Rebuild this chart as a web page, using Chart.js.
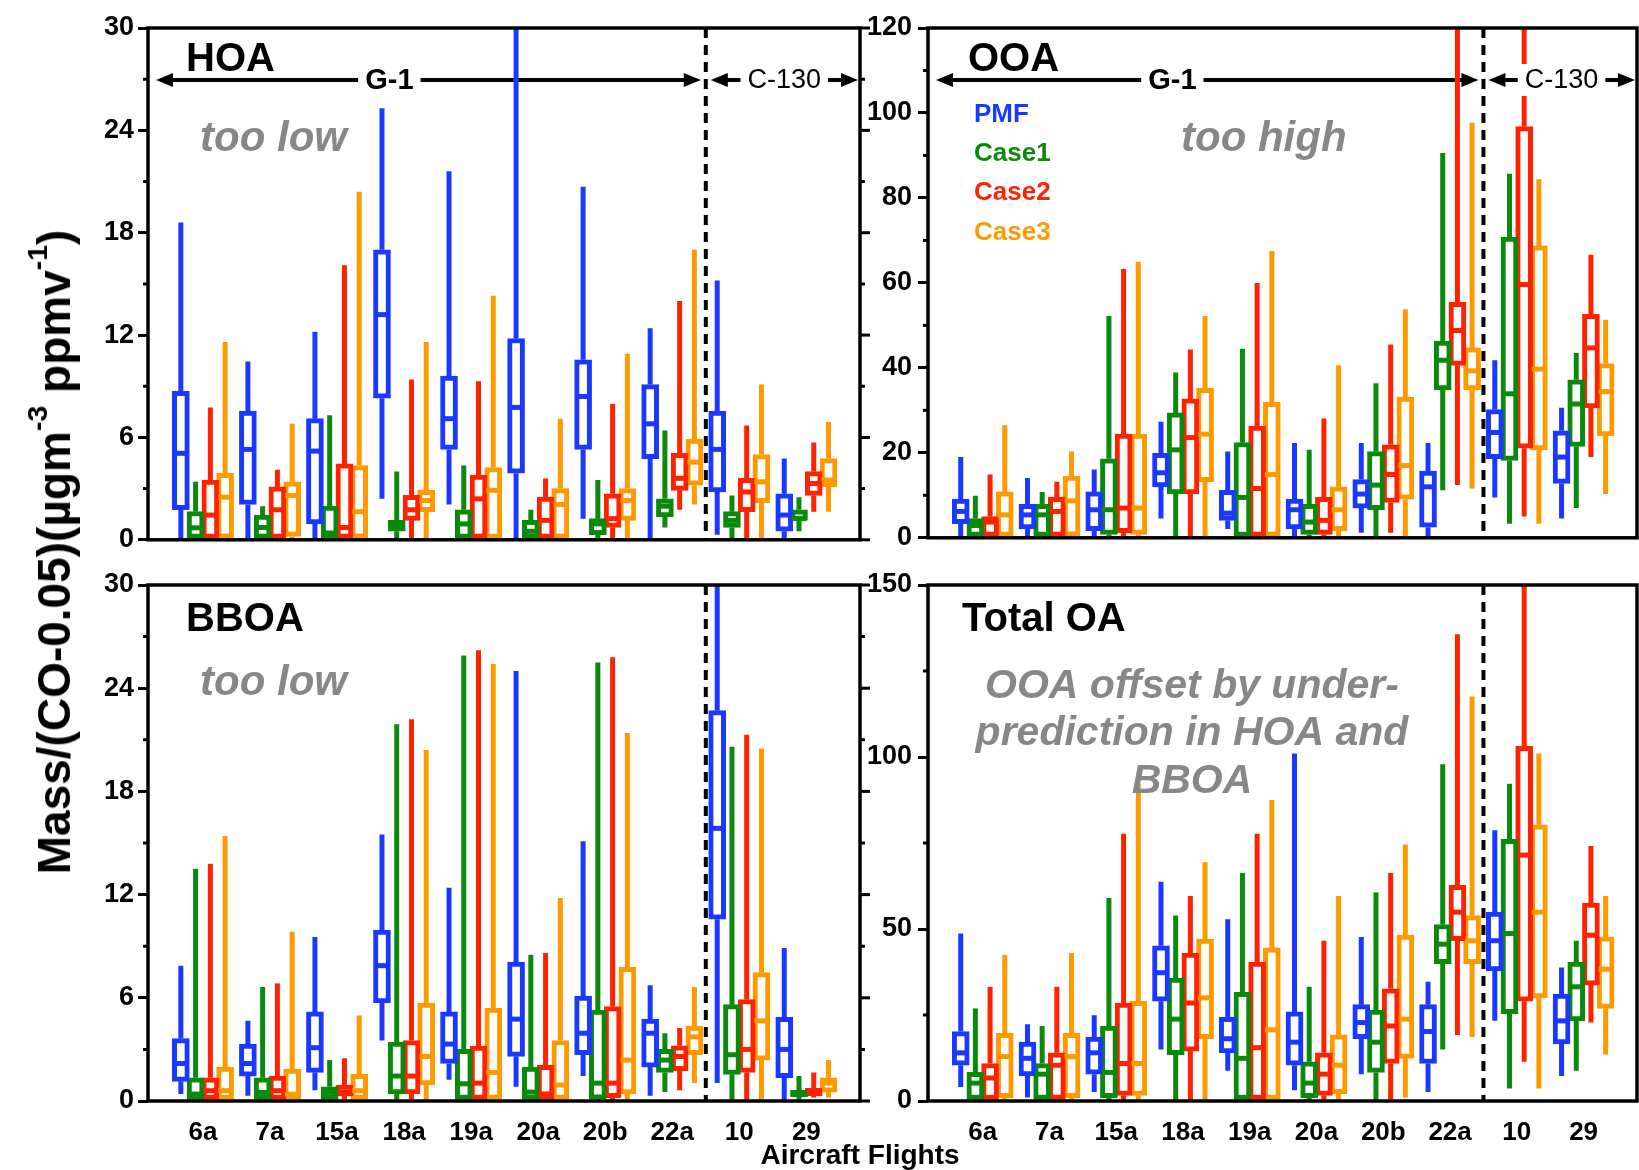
<!DOCTYPE html>
<html>
<head>
<meta charset="utf-8">
<script src="https://cdn.jsdelivr.net/npm/chart.js@4.4.0/dist/chart.umd.min.js"></script>
<style>
  body { margin: 0; background: #fff; }
  #fig { position: relative; width: 1639px; height: 1170px; overflow: hidden; font-family: "Liberation Sans", Arial, sans-serif; }
  #fig canvas { position: absolute; }
  #ytitle { position: absolute; left: 54px; top: 552px; transform: translate(-50%, -50%) rotate(-90deg);
            white-space: nowrap; font-weight: bold; font-size: 46px; color: #000; }
  #ytitle sup { font-size: 0.62em; line-height: 0; vertical-align: 0.8em; }
  #xtitle { position: absolute; left: 860px; top: 1155px; transform: translate(-50%, -50%);
            white-space: nowrap; font-weight: bold; font-size: 28px; color: #000; }
</style>
</head>
<body>
<div id="fig">
  <canvas id="hoa" width="880" height="560" style="left:0;top:0"></canvas>
  <canvas id="ooa" width="779" height="560" style="left:860px;top:0"></canvas>
  <canvas id="bboa" width="880" height="610" style="left:0;top:560px"></canvas>
  <canvas id="total" width="779" height="610" style="left:860px;top:560px"></canvas>
  <div id="ytitle">Mass/(CO-0.05)(µgm<sup>-3</sup> ppmv<sup>-1</sup>)</div>
  <div id="xtitle">Aircraft Flights</div>
</div>
<script>
// flights and series
var flights = ['6a', '7a', '15a', '18a', '19a', '20a', '20b', '22a', '10', '29'];
var seriesNames = ['PMF', 'Case1', 'Case2', 'Case3'];
var seriesColors = ['#1a38ff', '#0a8a0a', '#ff2200', '#ff9900'];

// each row: [min, q1, median, q3, max] for one flight
var hoaPMF = [[0,1.76,5.07,8.7,18.6],[0,2.07,5.3,7.55,10.45],[0,0.93,5.2,7.1,12.2],[2.4,8.3,13.2,17.0,25.3],[2.07,5.3,7.1,9.6,21.6],
              [0,3.9,7.76,11.8,31],[1.24,5.3,8.4,10.55,20.7],[0,4.76,6.8,9.1,12.4],[0.3,2.8,5.3,7.55,15.2],[0,0.5,1.45,2.7,4.76]];
var hoaCase1 = [[0,0,0.7,1.65,3.4],[0,0,0.72,1.45,1.97],[0,0.1,0.4,1.97,7.3],[0,0.5,0.83,1.14,4.0],[0,0,0.93,1.76,4.35],
                [0,0,0.5,1.14,1.76],[0,0.3,0.93,1.24,3.5],[0.72,1.34,1.97,2.4,6.4],[0,0.72,1.14,1.65,2.6],[0.5,1.14,1.24,1.76,2.5]];
var hoaCase2 = [[0,0,1.45,3.5,7.76],[0,0,1.76,3.1,4.1],[0,0,0.72,4.45,16.1],[0,1.14,1.76,2.6,9.4],[0,0,2.4,3.8,9.3],
                [0,0,1.14,2.5,3.6],[0,0.72,1.24,2.7,7.97],[1.76,2.9,3.6,5.07,14.0],[0,1.65,2.8,3.6,6.7],[1.65,2.6,3.3,4.0,5.7]];
var hoaCase3 = [[0,0.1,2.5,3.9,11.6],[0,0.2,2.6,3.4,6.8],[0,0.1,1.65,4.35,20.4],[0,1.65,2.3,2.9,11.6],[0,0,2.9,4.24,14.3],
                [0,0,2.07,3.0,7.1],[0,1.14,2.3,3.0,10.9],[2.07,3.2,4.55,5.9,17.0],[0,2.17,3.4,5.0,9.1],[1.65,3.1,3.5,4.76,6.9]];

var ooaPMF = [[0,3.3,6.2,9.1,19.0],[0,2.1,5.4,7.9,14.1],[0,1.65,6.6,10.8,16.1],[4.55,12.0,15.3,19.9,27.3],[2.1,4.1,5.8,11.2,20.3],
              [0,2.1,6.6,9.1,22.3],[1.2,7.0,10.3,13.7,22.3],[0,2.5,12.0,15.7,22.3],[9.5,18.6,24.8,30.2,41.8],[4.55,12.8,19.0,25.2,30.6]];
var ooaCase1 = [[0,0,2.9,4.55,9.9],[0,0,5.4,7.9,10.8],[0,0.8,6.6,18.6,52.2],[0,10.3,20.7,29.4,38.9],[0,0,9.5,22.4,44.5],
                [0,0.8,3.7,7.9,20.7],[0,6.6,12.4,20.3,36.4],[11.2,34.8,41.8,46.3,90.6],[3.3,18.2,33.9,70.8,85.7],[7.0,21.5,31.5,37.2,43.5]];
var ooaCase2 = [[0,0,3.7,5.0,14.9],[0,0,6.2,9.5,13.2],[0,1.2,7.0,24.4,63.3],[0,10.3,23.6,32.7,44.3],[0,0,11.6,26.3,60.0],
                [0,0.8,4.1,9.5,28.1],[1.2,8.3,14.9,21.9,45.5],[12.4,40.6,48.8,55.4,135],[5.0,21.1,59.6,96.8,140],[19.0,30.6,44.7,52.6,66.6]];
var ooaCase3 = [[0,0,5.4,10.8,26.5],[0,0.4,8.7,14.5,20.3],[0,0.8,7.0,24.4,65.0],[0,13.2,24.4,35.2,52.2],[0,0,14.9,31.9,67.5],
                [0,1.65,6.6,12.0,40.6],[0,9.1,17.0,33.1,53.8],[11.6,34.8,39.3,44.7,97.7],[3.3,20.7,39.7,68.7,84.4],[10.3,24.0,34.4,41.0,51.3]];

var bboaPMF = [[0.41,1.14,2.18,3.63,7.87],[0.31,1.45,2.18,3.31,4.66],[0.62,1.66,3.1,5.18,9.53],[3.52,5.7,7.87,9.94,15.5],[1.24,2.18,3.31,5.18,12.4],
               [0.83,2.59,4.76,8.08,25.0],[1.45,2.69,3.94,6.1,15.1],[0.31,1.97,3.94,4.76,6.73],[1.04,10.57,15.85,22.7,33],[0,1.35,3.0,4.87,8.9]];
var bboaCase1 = [[0,0,0.4,1.35,13.5],[0,0,0.5,1.35,6.63],[0,0,0.5,0.83,2.38],[0,0.41,1.45,3.42,21.9],[0,0,1.0,3.0,25.9],
                 [0,0,0.52,1.97,8.5],[0,0.1,1.04,5.28,25.5],[0.52,1.66,2.38,3.0,3.94],[0,1.55,2.69,5.6,20.6],[0.1,0.25,0.45,0.62,1.45]];
var bboaCase2 = [[0,0,0.6,1.35,13.8],[0,0,0.6,1.45,6.84],[0,0.3,0.5,0.93,2.49],[0,0.41,1.45,3.52,22.2],[0,0,1.04,3.2,26.2],
                 [0,0,0.41,2.07,8.6],[0,0.2,1.04,5.49,25.8],[0.62,1.76,2.59,3.21,4.25],[0,1.66,3.0,5.9,21.3],[0.2,0.31,0.52,0.73,1.66]];
var bboaCase3 = [[0,0,0.6,1.97,15.4],[0,0,0.4,1.86,9.84],[0,0,0.6,1.55,4.97],[0,0.93,2.59,5.7,20.4],[0,0,1.66,5.4,25.4],
                 [0,0,0.93,3.52,11.8],[0,0.41,2.38,7.77,21.4],[1.04,2.69,3.73,4.35,6.63],[0,2.38,4.66,7.46,20.5],[0.2,0.52,1.04,1.35,2.38]];

var totalPMF = [[4.1,10.4,14.0,20.2,48.7],[1.0,7.3,12.4,17.1,22.3],[2.6,7.8,14.0,18.6,24.9],[15.0,29.0,37.3,45.1,63.7],[8.8,14.0,18.1,24.3,52.8],
                [3.1,10.4,17.1,25.9,101],[7.8,18.1,22.8,28.0,47.7],[2.6,10.9,20.2,28.0,34.7],[23.3,37.8,46.6,54.9,78.7],[7.3,16.6,23.3,31.1,38.8]];
var totalCase1 = [[0,0,5.2,8.3,26.9],[0,0,7.8,10.9,21.8],[0,1.0,8.3,21.8,59.0],[0,13.5,23.8,35.7,53.9],[0,0,12.4,31.6,66.3],
                  [0,1.0,5.2,11.4,33.2],[0,8.3,17.1,26.4,60.6],[15.0,39.9,45.6,51.3,97.9],[3.6,25.4,48.7,76.1,92.2],[8.8,23.3,33.2,40.4,46.6]];
var totalCase2 = [[0,0,6.7,10.9,33.2],[0,0,10.4,14.0,33.2],[0,1.6,10.9,28.5,77.7],[0,14.5,28.5,43.0,59.6],[0,0,15.5,40.4,77.7],
                  [0,1.6,7.8,14.0,46.6],[0.5,10.9,21.8,32.6,66.3],[19.2,46.6,54.9,62.7,135.7],[11.4,29.0,71.5,103.1,160],[22.8,33.7,48.2,57.5,74.1]];
var totalCase3 = [[0,1.0,12.9,19.7,42.5],[0,1.0,12.9,19.7,43.0],[0,1.6,10.9,29.0,92.2],[0,18.1,30.0,47.1,69.4],[0,0,20.7,44.5,87.5],
                  [0,2.1,10.4,19.2,59.6],[1.0,12.4,23.8,48.2,74.6],[18.6,39.9,46.6,53.9,117.6],[3.6,30.0,54.9,80.3,101.0],[13.5,26.9,38.3,47.7,59.6]];

// y axis ranges and tick steps
var hoaTicks = { max: 30, step: 6 };
var ooaTicks = { max: 120, step: 20 };
var bboaTicks = { max: 30, step: 6 };
var totalTicks = { max: 150, step: 50 };

// where each case box sits inside a flight group
var boxOffsets = [-0.33, -0.11, 0.11, 0.33];
var splitAt = 7.5; // G-1 flights | C-130 flights

var GRAY = '#878787';

// text / arrow placement per panel (pixels from chart area top-left)
var panelAnno = {
  hoa: {
    mirror: true,
    arrows: { dy: 52, g1: 2.78, c130: 8.67 },
    texts: [
      { t: 'HOA', dx: 38, dy: 32, font: 'bold 40px', color: '#000' },
      { t: 'too low', dx: 52, dy: 111, font: 'italic bold 42px', color: GRAY }
    ]
  },
  ooa: {
    mirror: false,
    arrows: { dy: 52, g1: 2.84, c130: 8.67 },
    texts: [
      { t: 'OOA', dx: 40, dy: 32, font: 'bold 40px', color: '#000' },
      { t: 'too high', dx: 253, dy: 111, font: 'italic bold 42px', color: GRAY },
      { t: seriesNames[0], dx: 46, dy: 87, font: 'bold 26px', color: seriesColors[0] },
      { t: seriesNames[1], dx: 46, dy: 126, font: 'bold 26px', color: seriesColors[1] },
      { t: seriesNames[2], dx: 46, dy: 165, font: 'bold 26px', color: seriesColors[2] },
      { t: seriesNames[3], dx: 46, dy: 205, font: 'bold 26px', color: seriesColors[3] }
    ]
  },
  bboa: {
    mirror: true,
    texts: [
      { t: 'BBOA', dx: 38, dy: 35, font: 'bold 40px', color: '#000' },
      { t: 'too low', dx: 52, dy: 98, font: 'italic bold 42px', color: GRAY }
    ]
  },
  total: {
    mirror: false,
    texts: [
      { t: 'Total OA', dx: 34, dy: 35, font: 'bold 40px', color: '#000' },
      { t: 'OOA offset by under-', dx: 264, dy: 102, font: 'italic bold 41px', color: GRAY, align: 'center' },
      { t: 'prediction in HOA and', dx: 264, dy: 149, font: 'italic bold 41px', color: GRAY, align: 'center' },
      { t: 'BBOA', dx: 264, dy: 197, font: 'italic bold 41px', color: GRAY, align: 'center' }
    ]
  }
};

var FONT = '"Liberation Sans", Arial, sans-serif';

function arrowHead(ctx, x, y, dir) {
  ctx.beginPath();
  ctx.moveTo(x, y);
  ctx.lineTo(x - dir * 17, y - 7);
  ctx.lineTo(x - dir * 17, y + 7);
  ctx.closePath();
  ctx.fill();
}

function boxedLabel(ctx, txt, cx, cy, font) {
  ctx.font = font + ' ' + FONT;
  var w = ctx.measureText(txt).width;
  ctx.fillStyle = '#fff';
  ctx.fillRect(cx - w / 2 - 7, cy - 16, w + 14, 32);
  ctx.fillStyle = '#000';
  ctx.textAlign = 'center';
  ctx.textBaseline = 'middle';
  ctx.fillText(txt, cx, cy + 1);
}

var boxPlugin = {
  id: 'boxAnno',
  beforeDatasetsDraw: function(chart) {
    var ann = panelAnno[chart.canvas.id];
    var ctx = chart.ctx, a = chart.chartArea;
    var xs = chart.scales.x, ys = chart.scales.y;
    var xd = xs.getPixelForValue(splitAt);
    ctx.save();
    // dashed separator
    ctx.strokeStyle = '#000';
    ctx.lineWidth = 4;
    ctx.setLineDash([10, 7]);
    ctx.beginPath();
    ctx.moveTo(xd, a.top);
    ctx.lineTo(xd, a.bottom);
    ctx.stroke();
    ctx.setLineDash([]);
    // aircraft arrows
    if (ann.arrows) {
      var ay = a.top + ann.arrows.dy;
      ctx.fillStyle = '#000';
      ctx.beginPath();
      ctx.moveTo(a.left + 20, ay); ctx.lineTo(xd - 18, ay);
      ctx.moveTo(xd + 18, ay); ctx.lineTo(a.right - 14, ay);
      ctx.stroke();
      arrowHead(ctx, a.left + 8, ay, -1);
      arrowHead(ctx, xd - 5, ay, 1);
      arrowHead(ctx, xd + 5, ay, -1);
      arrowHead(ctx, a.right - 2, ay, 1);
    }
    // whiskers
    ctx.beginPath();
    ctx.rect(a.left, a.top, a.width, a.height);
    ctx.clip();
    ctx.lineWidth = 5;
    chart.data.datasets.forEach(function(ds, s) {
      ctx.strokeStyle = ds.borderColor;
      ds.stats.forEach(function(st, i) {
        var px = xs.getPixelForValue(i + boxOffsets[s]);
        ctx.beginPath();
        ctx.moveTo(px, ys.getPixelForValue(st[0]));
        ctx.lineTo(px, ys.getPixelForValue(st[1]));
        ctx.moveTo(px, ys.getPixelForValue(st[3]));
        ctx.lineTo(px, ys.getPixelForValue(st[4]));
        ctx.stroke();
      });
    });
    ctx.restore();
  },
  afterDatasetsDraw: function(chart) {
    var ann = panelAnno[chart.canvas.id];
    var ctx = chart.ctx, a = chart.chartArea;
    var xs = chart.scales.x, ys = chart.scales.y;
    var yo = ys.options;
    ctx.save();
    // medians
    ctx.lineWidth = 5;
    chart.data.datasets.forEach(function(ds, s) {
      ctx.strokeStyle = ds.borderColor;
      ds.stats.forEach(function(st, i) {
        var px = xs.getPixelForValue(i + boxOffsets[s]);
        var py = ys.getPixelForValue(st[2]);
        ctx.beginPath();
        ctx.moveTo(px - 7, py);
        ctx.lineTo(px + 7, py);
        ctx.stroke();
      });
    });
    // frame
    ctx.strokeStyle = '#000';
    ctx.lineWidth = 3.5;
    ctx.strokeRect(a.left, a.top, a.width, a.height);
    // minor ticks left, mirrored ticks right
    ctx.lineWidth = 3;
    var step = yo.ticks.stepSize / 2;
    for (var v = 0; v <= yo.max + 1e-9; v += step) {
      var py = ys.getPixelForValue(v);
      var major = Math.abs(v / yo.ticks.stepSize - Math.round(v / yo.ticks.stepSize)) < 1e-6;
      ctx.beginPath();
      if (!major) { ctx.moveTo(a.left - 5, py); ctx.lineTo(a.left, py); }
      if (ann.mirror) { ctx.moveTo(a.right, py); ctx.lineTo(a.right + (major ? 10 : 5), py); }
      ctx.stroke();
    }
    // arrow labels
    if (ann.arrows) {
      var ay = a.top + ann.arrows.dy;
      boxedLabel(ctx, 'G-1', xs.getPixelForValue(ann.arrows.g1), ay, 'bold 29px');
      boxedLabel(ctx, 'C-130', xs.getPixelForValue(ann.arrows.c130), ay, '27px');
    }
    // panel texts
    ctx.textBaseline = 'middle';
    ann.texts.forEach(function(tx) {
      ctx.font = tx.font + ' ' + FONT;
      ctx.fillStyle = tx.color;
      ctx.textAlign = tx.align || 'left';
      ctx.fillText(tx.t, a.left + tx.dx, a.top + tx.dy);
    });
    ctx.restore();
  }
};

function makeDatasets(list) {
  return list.map(function(stats, s) {
    return {
      label: seriesNames[s],
      stats: stats,
      data: stats.map(function(st, i) { return { x: i + boxOffsets[s], y: [st[1], st[3]] }; }),
      borderColor: seriesColors[s],
      backgroundColor: '#ffffff',
      borderWidth: 5,
      borderSkipped: false,
      barThickness: 17,
      grouped: false
    };
  });
}

function makeChart(id, list, ticks, bottomRow, leftCol) {
  var yWidth = leftCol ? 148 : 68;
  var xOpts = {
    type: 'linear', min: -0.82, max: 9.8, offset: false,
    grid: { display: false, offset: false }, border: { display: false }
  };
  if (bottomRow) {
    xOpts.display = true;
    xOpts.afterBuildTicks = function(scale) { scale.ticks = flights.map(function(f, i) { return { value: i }; }); };
    xOpts.afterFit = function(scale) { scale.height = 69; };
    xOpts.ticks = {
      autoSkip: false, maxRotation: 0, padding: 8, color: '#000',
      font: { family: FONT, size: 26, weight: 'bold' },
      callback: function(v) { return flights[v] !== undefined ? flights[v] : ''; }
    };
  } else {
    xOpts.display = false;
  }
  return new Chart(document.getElementById(id), {
    type: 'bar',
    data: { datasets: makeDatasets(list) },
    options: {
      responsive: false,
      animation: false,
      events: [],
      devicePixelRatio: 1,
      layout: { padding: { top: bottomRow ? 25 : 28, right: leftCol ? 20 : 2, bottom: bottomRow ? 0 : 15, left: 0 } },
      plugins: { legend: { display: false }, tooltip: { enabled: false } },
      scales: {
        x: xOpts,
        y: {
          type: 'linear', min: 0, max: ticks.max,
          afterFit: function(scale) { scale.width = yWidth; },
          grid: { display: true, drawOnChartArea: false, drawTicks: true, tickLength: 10, lineWidth: 3, color: '#000' },
          border: { display: false },
          ticks: { stepSize: ticks.step, padding: leftCol ? 4 : 6, color: '#000',
                   font: { family: FONT, size: 27, weight: 'bold' } }
        }
      }
    },
    plugins: [boxPlugin]
  });
}

makeChart('hoa', [hoaPMF, hoaCase1, hoaCase2, hoaCase3], hoaTicks, false, true);
makeChart('ooa', [ooaPMF, ooaCase1, ooaCase2, ooaCase3], ooaTicks, false, false);
makeChart('bboa', [bboaPMF, bboaCase1, bboaCase2, bboaCase3], bboaTicks, true, true);
makeChart('total', [totalPMF, totalCase1, totalCase2, totalCase3], totalTicks, true, false);
</script>
</body>
</html>
